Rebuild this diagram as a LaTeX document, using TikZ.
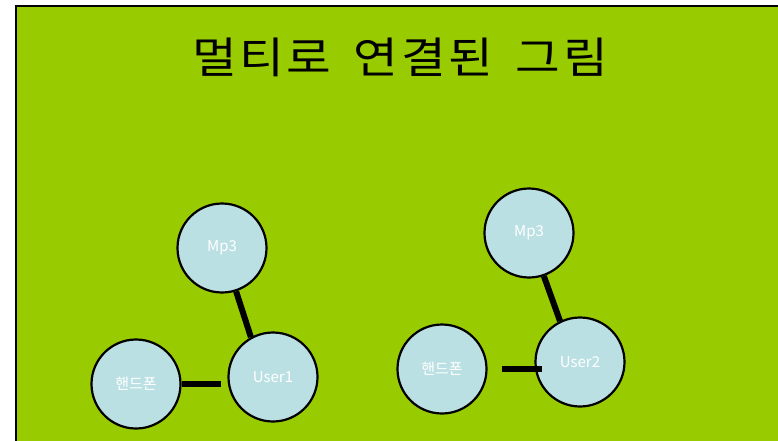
\documentclass[tikz,border=0pt]{standalone}
\usepackage{fontspec}
\setmainfont{Noto Sans CJK KR}
\newfontfamily\titlefont[FakeStretch=1.13,LetterSpace=6]{Noto Sans CJK KR}
\definecolor{bggreen}{HTML}{99CC00}
\definecolor{nodefill}{HTML}{BBE0E3}
\begin{document}
\begin{tikzpicture}[x=1pt,y=-1pt,
  ball/.style={circle,draw=black,line width=2.2pt,fill=nodefill,minimum size=89pt,inner sep=0pt,
    text=white,font=\fontsize{15}{17}\selectfont},
  link/.style={line width=6pt,draw=black}]
\useasboundingbox (0,0) rectangle (778,441);
\clip (0,0) rectangle (778,441);
\draw[fill=bggreen,line width=2pt] (16,6) rectangle (800,460);
\node[font=\titlefont\fontsize{43}{50}\selectfont,anchor=base] (title) at (400,74) {멀티로\hspace{9pt} 연결된\hspace{9pt} 그림};
% left group
\node[ball] (m1) at (222,248) {Mp3};
\node[ball] (h1) at (136,384) {핸드폰};
\node[ball] (u1) at (273,377) {User1};
\draw[link] (m1.-72) -- (u1.119);
\draw[link,shorten >=6pt] (h1.east) -- (h1.east -| u1.west);
% right group
\node[ball] (m2) at (529,233) {Mp3};
\node[ball] (h2) at (442,369) {핸드폰};
\node[ball] (u2) at (580,362) {User2};
\draw[link] (m2.-71) -- (u2.116);
\draw[link,shorten <=14pt,shorten >=-8pt] (h2.east) -- (h2.east -| u2.west);
\end{tikzpicture}
\end{document}
